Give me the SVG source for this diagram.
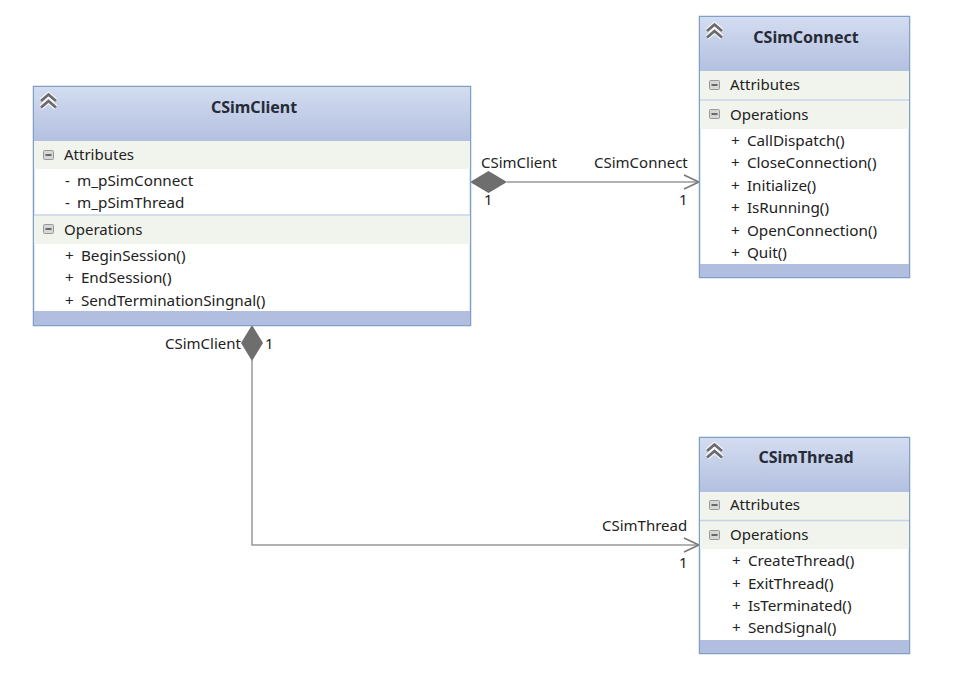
<svg xmlns="http://www.w3.org/2000/svg" width="961" height="679" viewBox="0 0 961 679">
<style>
text{font-family:"Noto Sans","DejaVu Sans",sans-serif;font-size:15px;fill:#222}
.m{font-size:15.25px;word-spacing:3.2px}
.t{font-weight:700;text-anchor:middle;fill:#262b36;font-size:16px}
.box{fill:#fff;stroke:#7f9fc4;stroke-width:1.5}
.foot{fill:#b1bedf}
.sec{fill:#f1f4ed}
.div{stroke:#c6d2e6;stroke-width:1.5}
.conn{fill:none;stroke:#999;stroke-width:1.5}
.arr{fill:none;stroke:#777;stroke-width:1.5}
.dia{fill:#6e6e6e}
.halo{fill:none;stroke:#f4f6fb;stroke-width:5}
.chev{fill:none;stroke:#6b6b6b;stroke-width:2.8}
.mb{fill:#d6d6d6;stroke:#999;stroke-width:1}
.mm{stroke:#444;stroke-width:1.5}
</style>
<defs>
<linearGradient id="hd" x1="0" y1="0" x2="0" y2="1"><stop offset="0" stop-color="#d3dcf0"/><stop offset="1" stop-color="#b3c0e0"/></linearGradient>
<g id="chevrons"><path class="halo" d="M1 8L8.500 1.500L16 8M1 14.500L8.500 8L16 14.500"/><path class="chev" d="M1 8L8.500 1.500L16 8M1 14.500L8.500 8L16 14.500"/></g>
<g id="minus"><rect class="mb" x="0.500" y="0.500" width="10" height="9" rx="1"/><path class="mm" d="M2.500 5H8.500"/></g>
</defs>
<g id="connectors">
<path class="conn" d="M507 182H699"/>
<path class="arr" d="M684 175L699 182L684 189"/>
<path class="dia" d="M470 182L488.500 171L507 182L488.500 193Z"/>
<path class="conn" d="M252 360V545H699"/>
<path class="arr" d="M684 538L699 545L684 552"/>
<path class="dia" d="M252 325L263 343L252 361L241 343Z"/>
</g>
<g id="CSimClient">
<rect class="box" x="33.500" y="86.500" width="437" height="239"/>
<rect x="34" y="87" width="436" height="54" fill="url(#hd)"/>
<rect class="sec" x="34" y="141" width="436" height="28"/>
<rect class="sec" x="34" y="216" width="436" height="28"/>
<path class="div" d="M34 215H470"/>
<rect class="foot" x="34" y="311" width="436" height="14"/>
<use href="#chevrons" x="40" y="93"/>
<text class="t" x="254" y="113">CSimClient</text>
<use href="#minus" x="43" y="150"/><text x="64" y="160">Attributes</text>
<text class="m" x="65" y="186">- m_pSimConnect</text>
<text class="m" x="65" y="208">- m_pSimThread</text>
<use href="#minus" x="43" y="224"/><text x="64" y="235">Operations</text>
<text class="m" x="65" y="261">+ BeginSession()</text>
<text class="m" x="65" y="283">+ EndSession()</text>
<text class="m" x="65" y="306">+ SendTerminationSingnal()</text>
</g>
<g id="CSimConnect">
<rect class="box" x="699.500" y="16.500" width="210" height="261"/>
<rect x="700" y="17" width="209" height="54" fill="url(#hd)"/>
<rect class="sec" x="700" y="71" width="209" height="28"/>
<rect class="sec" x="700" y="101" width="209" height="28"/>
<path class="div" d="M700 100H909"/>
<rect class="foot" x="700" y="264" width="209" height="13"/>
<use href="#chevrons" x="706" y="23"/>
<text class="t" x="806" y="43">CSimConnect</text>
<use href="#minus" x="709" y="80"/><text x="730" y="90">Attributes</text>
<use href="#minus" x="709" y="109"/><text x="730" y="120">Operations</text>
<text class="m" x="731" y="146">+ CallDispatch()</text>
<text class="m" x="731" y="168">+ CloseConnection()</text>
<text class="m" x="731" y="191">+ Initialize()</text>
<text class="m" x="731" y="213">+ IsRunning()</text>
<text class="m" x="731" y="236">+ OpenConnection()</text>
<text class="m" x="731" y="258">+ Quit()</text>
</g>
<g id="CSimThread">
<rect class="box" x="699.500" y="437.500" width="210" height="216"/>
<rect x="700" y="438" width="209" height="54" fill="url(#hd)"/>
<rect class="sec" x="700" y="492" width="209" height="28"/>
<rect class="sec" x="700" y="521" width="209" height="28"/>
<path class="div" d="M700 520.500H909"/>
<rect class="foot" x="700" y="640" width="209" height="13"/>
<use href="#chevrons" x="706" y="443"/>
<text class="t" x="806" y="463">CSimThread</text>
<use href="#minus" x="709" y="500"/><text x="730" y="510">Attributes</text>
<use href="#minus" x="709" y="530"/><text x="730" y="540">Operations</text>
<text class="m" x="732" y="566">+ CreateThread()</text>
<text class="m" x="732" y="589">+ ExitThread()</text>
<text class="m" x="732" y="611">+ IsTerminated()</text>
<text class="m" x="732" y="633">+ SendSignal()</text>
</g>
<g id="labels">
<text x="481" y="168">CSimClient</text>
<text x="594" y="168">CSimConnect</text>
<text x="484" y="205">1</text>
<text x="679" y="205">1</text>
<text x="165" y="349">CSimClient</text>
<text x="265" y="349">1</text>
<text x="602" y="531">CSimThread</text>
<text x="679" y="568">1</text>
</g>
</svg>
